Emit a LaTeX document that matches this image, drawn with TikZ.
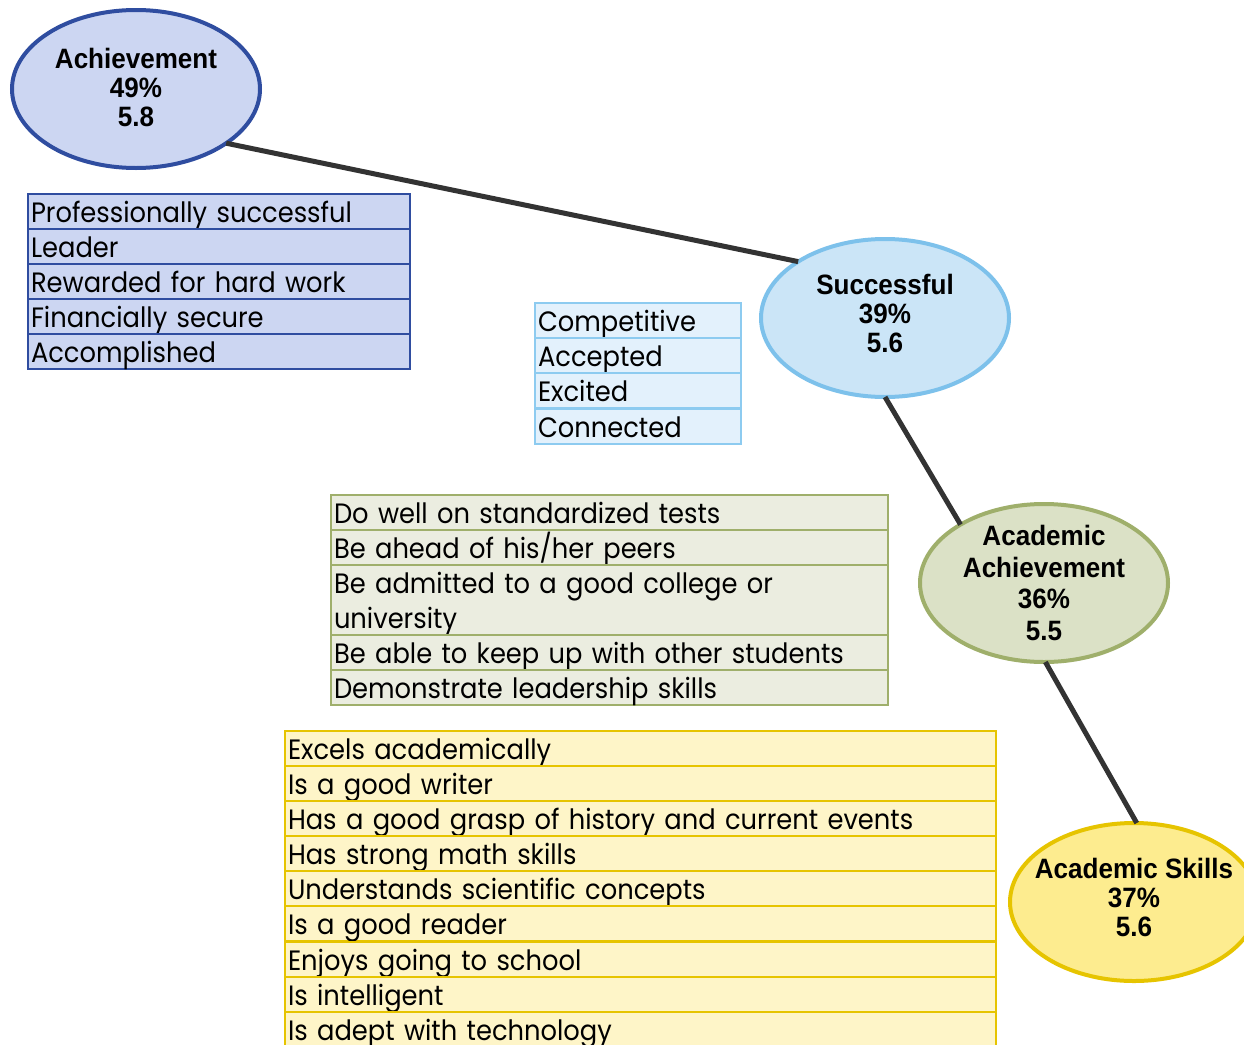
\documentclass[tikz,border=0pt]{standalone}
\usepackage{fontspec}
\usetikzlibrary{shapes.geometric}
\newfontfamily\listfont[FakeStretch=0.92]{Poppins}
\newfontfamily\ellfont[FakeStretch=0.93]{Liberation Sans}
\definecolor{achFill}{HTML}{CCD6F2}
\definecolor{achLine}{HTML}{2F4DA0}
\definecolor{sucFill}{HTML}{CBE5F7}
\definecolor{sucLine}{HTML}{7DC1EB}
\definecolor{sucList}{HTML}{E3F1FC}
\definecolor{sucListLine}{HTML}{8DCBF0}
\definecolor{aaFill}{HTML}{DBE1C6}
\definecolor{aaLine}{HTML}{9FAF6B}
\definecolor{aaList}{HTML}{EBEDE0}
\definecolor{asFill}{HTML}{FDEC8F}
\definecolor{asLine}{HTML}{E6C400}
\definecolor{asList}{HTML}{FEF5C8}
\definecolor{connCol}{HTML}{333333}
\begin{document}
\begin{tikzpicture}[x=1pt,y=-1pt,
  ell/.style={ellipse, line width=4, minimum width=248, minimum height=158, inner sep=0, outer sep=0},
  ellText/.style={align=center, inner sep=0, font=\ellfont\bfseries\fontsize{28}{29}\selectfont},
  conn/.style={draw=connCol, line width=5},
  item/.style={rectangle, anchor=north west, line width=2, inner xsep=3, inner ysep=0, outer sep=0, text height=28, text depth=7, align=left, font=\listfont\fontsize{28}{35}\selectfont}]
\clip (0,0) rectangle (1244,1044);
\useasboundingbox (0,0) rectangle (1244,1044);

% ellipses
\node[ell, fill=achFill, draw=achLine, label={[ellText, name=achT, yshift=2]center:Achievement\\49\%\\5.8}] (ach) at (136,89) {};
\node[ell, fill=sucFill, draw=sucLine, label={[ellText, name=sucT, yshift=4.5]center:Successful\\39\%\\5.6}] (suc) at (885,318) {};
\node[ell, fill=aaFill, draw=aaLine, label={[ellText, name=aaT, font=\ellfont\bfseries\fontsize{28}{31.5}\selectfont]center:Academic\\Achievement\\36\%\\5.5}] (aa) at (1044,583) {};
\node[ell, fill=asFill, draw=asLine, label={[ellText, name=asT, yshift=4.5]center:Academic Skills\\37\%\\5.6}] (as) at (1134,902) {};

% connectors
\draw[conn] (ach.-31) -- (suc.147);
\draw[conn] (suc.-90) -- (aa.145);
\draw[conn] (aa.-89) -- (as.88);

% Achievement list
\tikzset{achrow/.style={item, fill=achFill, draw=achLine, minimum width=382, text width=376, minimum height=35}}
\node[achrow] (a1) at (28,194) {Professionally successful};
\node[achrow] (a2) at (28,229) {Leader};
\node[achrow] (a3) at (28,264) {Rewarded for hard work};
\node[achrow] (a4) at (28,299) {Financially secure};
\node[achrow] (a5) at (28,334) {Accomplished};

% Successful list
\tikzset{sucrow/.style={item, fill=sucList, draw=sucListLine, minimum width=206, text width=200, minimum height=35}}
\node[sucrow] (s1) at (535,303) {Competitive};
\node[sucrow] (s2) at (535,338) {Accepted};
\node[sucrow] (s3) at (535,373) {Excited};
\node[sucrow] (s4) at (535,409) {Connected};

% Academic Achievement list
\tikzset{aarow/.style={item, fill=aaList, draw=aaLine, minimum width=557, text width=551, minimum height=35}}
\node[aarow] (b1) at (331,495) {Do well on standardized tests};
\node[aarow] (b2) at (331,530) {Be ahead of his/her peers};
\node[aarow, minimum height=70, text depth=42] (b3) at (331,565) {Be admitted to a good college or\\university};
\node[aarow] (b4) at (331,635) {Be able to keep up with other students};
\node[aarow] (b5) at (331,670) {Demonstrate leadership skills};

% Academic Skills list
\tikzset{asrow/.style={item, fill=asList, draw=asLine, minimum width=711, text width=705, minimum height=35}}
\node[asrow] (c1) at (285,731) {Excels academically};
\node[asrow] (c2) at (285,766) {Is a good writer};
\node[asrow] (c3) at (285,801) {Has a good grasp of history and current events};
\node[asrow] (c4) at (285,836) {Has strong math skills};
\node[asrow] (c5) at (285,871) {Understands scientific concepts};
\node[asrow] (c6) at (285,906) {Is a good reader};
\node[asrow] (c7) at (285,942) {Enjoys going to school};
\node[asrow] (c8) at (285,977) {Is intelligent};
\node[asrow] (c9) at (285,1012) {Is adept with technology};
\end{tikzpicture}
\end{document}
